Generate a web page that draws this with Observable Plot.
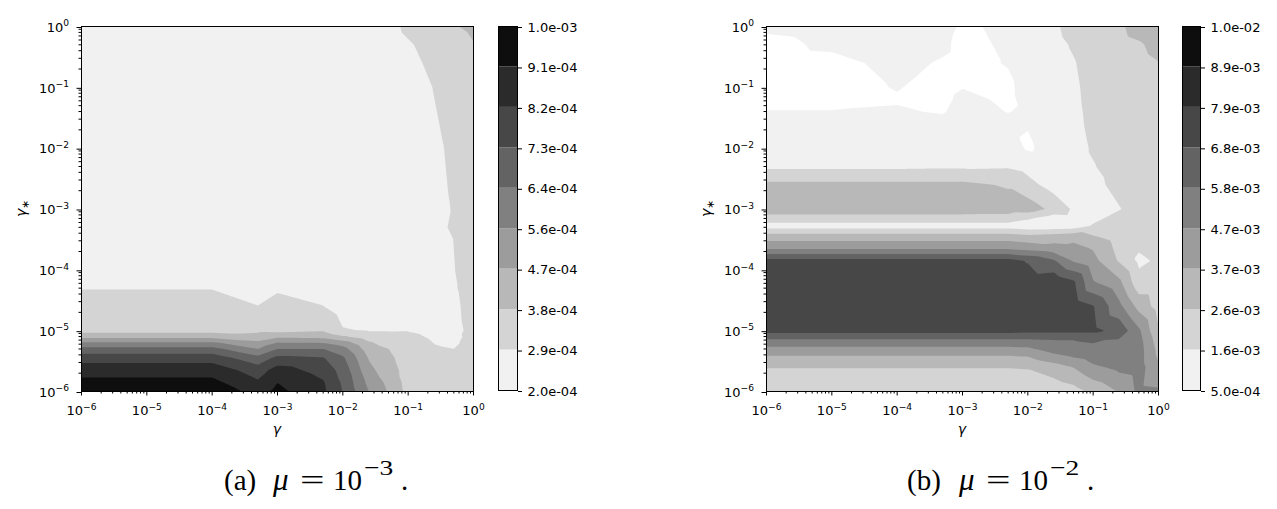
<!DOCTYPE html>
<html>
<head>
<meta charset="utf-8">
<script src="https://cdn.jsdelivr.net/npm/d3@7"></script>
<script src="https://cdn.jsdelivr.net/npm/@observablehq/plot@0.6"></script>
<style>
  html, body { margin: 0; padding: 0; background: #fff; }
  #root { position: relative; width: 1277px; height: 509px; overflow: hidden; background: #fff; }
  #root > svg { position: absolute; top: 0; }
</style>
</head>
<body>
<div id="root"></div>
<script>
// ---------------- data ----------------
// grid nodes (log10 of the parameter values)
const log10Gamma = [-6, -5, -4, -3.3, -3, -2.3, -2, -1.6, -1.3, -1, -0.6, -0.3, 0];
const log10GammaStarA = [0, -0.3, -1, -2, -3, -3.3, -3.5, -4, -4.3, -4.6, -5, -5.1, -5.2, -5.3, -5.45, -5.65, -5.85, -6];
const log10GammaStarB = [0, -0.3, -0.6, -1, -1.2, -1.4, -1.6, -2, -2.3, -2.6, -3, -3.15, -3.28, -3.45, -3.65, -3.85, -4.2, -4.6, -5, -5.15, -5.35, -5.6, -6];

// panel (a), mu = 1e-3 : one list per gamma node, values in units of 1e-4
const valuesA = [
  [2.4, 2.4, 2.4, 2.4, 2.4, 2.4, 2.45, 2.6, 2.87, 3.1, 3.45, 4.4, 5.7, 6.75, 7.85, 8.75, 9.35, 9.7],
  [2.4, 2.4, 2.4, 2.4, 2.4, 2.4, 2.45, 2.6, 2.87, 3.1, 3.45, 4.4, 5.7, 6.75, 7.85, 8.75, 9.35, 9.7],
  [2.4, 2.4, 2.4, 2.4, 2.4, 2.4, 2.45, 2.6, 2.87, 3.1, 3.45, 4.4, 5.7, 6.75, 7.85, 8.75, 9.35, 9.7],
  [2.3, 2.3, 2.3, 2.3, 2.3, 2.3, 2.3, 2.45, 2.65, 2.9, 3.6, 4.1, 4.9, 5.55, 6.75, 7.8, 8.35, 8.8],
  [2.3, 2.3, 2.3, 2.3, 2.3, 2.3, 2.35, 2.6, 2.83, 3.05, 3.5, 4.5, 5.6, 6.45, 7.6, 8.6, 9.1, 9.35],
  [2.3, 2.3, 2.3, 2.3, 2.3, 2.3, 2.3, 2.45, 2.65, 2.9, 3.7, 4.4, 5.55, 6.45, 7.4, 7.9, 8.3, 8.4],
  [2.3, 2.3, 2.3, 2.3, 2.3, 2.3, 2.3, 2.35, 2.4, 2.5, 2.95, 3.9, 5.1, 5.9, 6.6, 7.0, 7.2, 7.3],
  [2.35, 2.35, 2.35, 2.35, 2.35, 2.35, 2.35, 2.35, 2.4, 2.5, 2.85, 3.3, 3.9, 4.2, 4.6, 4.9, 5.3, 5.55],
  [2.6, 2.5, 2.4, 2.4, 2.4, 2.4, 2.4, 2.35, 2.4, 2.5, 2.85, 3.1, 3.4, 3.78, 4.0, 4.2, 4.45, 4.6],
  [3.08, 2.8, 2.5, 2.45, 2.45, 2.45, 2.45, 2.4, 2.45, 2.55, 2.87, 3.0, 3.1, 3.2, 3.3, 3.4, 3.45, 3.5],
  [3.3, 3.2, 2.92, 2.75, 2.6, 2.6, 2.55, 2.55, 2.6, 2.65, 2.75, 2.82, 2.88, 2.92, 2.93, 2.94, 2.95, 2.95],
  [3.72, 3.4, 3.2, 3.03, 2.95, 3.03, 2.9, 2.87, 2.82, 2.78, 2.75, 2.8, 2.84, 2.89, 2.9, 2.9, 2.9, 2.9],
  [3.95, 3.74, 3.5, 3.3, 3.2, 3.2, 3.2, 3.2, 3.2, 3.1, 3.03, 3.0, 3.0, 2.95, 2.95, 2.92, 2.9, 2.9]
];
const unitA = 1e-4;

// panel (b), mu = 1e-2 : one list per gamma node, values in units of 1e-3
const valuesB = [
  [0.6, 0.35, 0.3, 0.3, 0.35, 0.52, 0.8, 1.1, 1.35, 2.85, 3.2, 2.2, 1.1, 3.1, 4.6, 7.2, 7.5, 7.6, 7.2, 5.7, 4.0, 2.65, 1.7],
  [0.7, 0.6, 0.35, 0.3, 0.35, 0.52, 0.8, 1.1, 1.35, 2.85, 3.2, 2.2, 1.1, 3.1, 4.6, 7.2, 7.5, 7.6, 7.2, 5.7, 4.0, 2.65, 1.7],
  [0.8, 0.75, 0.65, 0.53, 0.45, 0.56, 0.8, 1.1, 1.35, 2.85, 3.2, 2.2, 1.1, 3.1, 4.6, 7.2, 7.5, 7.6, 7.2, 5.7, 4.0, 2.65, 1.7],
  [0.75, 0.6, 0.45, 0.3, 0.35, 0.45, 0.7, 1.1, 1.4, 2.85, 3.2, 2.2, 1.1, 3.1, 4.6, 7.2, 7.5, 7.6, 7.2, 5.7, 4.0, 2.65, 1.7],
  [0.4, 0.35, 0.35, 0.48, 0.65, 0.75, 0.85, 1.15, 1.4, 2.85, 3.2, 2.2, 1.1, 3.1, 4.6, 7.2, 7.5, 7.6, 7.2, 5.7, 4.0, 2.65, 1.7],
  [0.63, 0.58, 0.53, 0.4, 0.4, 0.48, 0.65, 0.98, 1.45, 2.5, 3.1, 2.2, 1.1, 3.1, 4.6, 7.2, 7.5, 7.6, 7.2, 5.7, 4.0, 2.65, 1.7],
  [0.9, 0.85, 0.75, 0.7, 0.65, 0.6, 0.55, 0.38, 1.2, 1.9, 3.2, 1.72, 0.9, 2.9, 4.4, 6.75, 7.4, 7.5, 7.1, 5.7, 4.1, 2.7, 1.7],
  [1.4, 1.3, 1.2, 1.1, 1.05, 1.0, 0.95, 0.86, 1.0, 1.1, 2.3, 1.04, 0.9, 3.1, 4.1, 5.9, 7.6, 7.5, 7.1, 5.8, 4.9, 3.2, 1.9],
  [1.9, 1.65, 1.5, 1.42, 1.4, 1.36, 1.33, 1.2, 1.2, 1.1, 1.4, 1.2, 1.0, 3.3, 4.0, 4.6, 7.0, 7.45, 7.1, 5.8, 5.3, 3.7, 2.2],
  [2.1, 2.0, 1.9, 1.82, 1.8, 1.78, 1.76, 1.66, 1.5, 1.25, 1.2, 1.3, 1.67, 2.7, 3.6, 4.0, 4.8, 6.9, 7.1, 5.85, 5.6, 4.5, 2.9],
  [2.45, 2.3, 2.2, 2.15, 2.1, 2.1, 2.1, 2.05, 2.0, 1.9, 1.5, 1.9, 2.0, 2.1, 2.3, 2.5, 3.9, 5.0, 6.5, 5.7, 5.4, 5.0, 3.75],
  [3.0, 2.5, 2.35, 2.25, 2.2, 2.15, 2.1, 2.1, 2.1, 2.05, 2.0, 2.05, 2.0, 1.8, 1.65, 1.35, 1.9, 3.3, 4.9, 5.1, 5.2, 5.2, 5.0],
  [3.3, 2.9, 2.58, 2.3, 2.2, 2.1, 2.1, 2.1, 2.1, 2.1, 2.1, 2.1, 2.1, 2.0, 1.9, 1.7, 1.9, 2.2, 2.7, 3.1, 3.4, 3.8, 4.9]
];
const unitB = 1e-3;

// contour levels and their colour-bar labels
const levelsA = [2.0e-4, 2.889e-4, 3.778e-4, 4.667e-4, 5.556e-4, 6.444e-4, 7.333e-4, 8.222e-4, 9.111e-4, 1.0e-3];
const levelLabelsA = ["2.0e-04", "2.9e-04", "3.8e-04", "4.7e-04", "5.6e-04", "6.4e-04", "7.3e-04", "8.2e-04", "9.1e-04", "1.0e-03"];
const levelsB = [5.0e-4, 1.556e-3, 2.611e-3, 3.667e-3, 4.722e-3, 5.778e-3, 6.833e-3, 7.889e-3, 8.944e-3, 1.0e-2];
const levelLabelsB = ["5.0e-04", "1.6e-03", "2.6e-03", "3.7e-03", "4.7e-03", "5.8e-03", "6.8e-03", "7.9e-03", "8.9e-03", "1.0e-02"];
const grays = ["#f1f1f1", "#d4d4d4", "#b8b8b8", "#9c9c9c", "#808080", "#636363", "#474747", "#2b2b2b", "#0e0e0e"];

const decadeTicks = [1e-6, 1e-5, 1e-4, 1e-3, 1e-2, 1e-1, 1];
const decadeLabels = ["10^\u22126", "10^\u22125", "10^\u22124", "10^\u22123", "10^\u22122", "10^\u22121", "10^0"];
const captionA = ["(a)", "\u03bc", "=", "10", "\u22123", "."];
const captionB = ["(b)", "\u03bc", "=", "10", "\u22122", "."];

// ---------------- helpers ----------------
const minorTicks = decadeTicks.slice(0, -1).flatMap(d => [2, 3, 4, 5, 6, 7, 8, 9].map(k => k * d));
const toGrid = (ys, cols, unit) =>
  cols.flatMap((col, i) => col.map((v, j) => ({gamma: 10 ** log10Gamma[i], gammaStar: 10 ** ys[j], value: v * unit})));
const fmtDecade = d => decadeLabels[Math.round(Math.log10(d)) + 6];
const baseStyle = {fontFamily: "DejaVu Sans, sans-serif", fontSize: "13px", color: "#000", background: "transparent", overflow: "visible"};
const SVGNS = "http://www.w3.org/2000/svg";

function superscriptify(svg) {
  svg.querySelectorAll("text").forEach(t => {
    const m = /^10\^(.+)$/.exec(t.textContent);
    if (!m) return;
    t.textContent = "10";
    const s = document.createElementNS(SVGNS, "tspan");
    s.setAttribute("dy", "-0.6em");
    s.setAttribute("font-size", "70%");
    s.textContent = m[1];
    t.appendChild(s);
  });
}

function panel(data, levels) {
  const svg = Plot.plot({
    width: 480, height: 440,
    marginLeft: 81, marginRight: 7, marginTop: 26, marginBottom: 49,
    style: baseStyle,
    x: {type: "log", domain: [1e-6, 1], label: null, axis: null},
    y: {type: "log", domain: [1e-6, 1], label: null, axis: null},
    color: {type: "threshold", domain: levels.slice(1, -1), range: grays},
    marks: [
      Plot.contour(data, {
        x: "gamma", y: "gammaStar", fill: "value",
        thresholds: levels.slice(0, -1), interpolate: "barycentric",
        stroke: "none", pixelSize: 1
      }),
      Plot.axisX({ticks: minorTicks, tickSize: 2.5, tickFormat: () => "", label: null}),
      Plot.axisX({ticks: decadeTicks, tickSize: 4.5, tickPadding: 10, tickFormat: fmtDecade, label: null}),
      Plot.axisY({ticks: minorTicks, tickSize: 2.5, tickFormat: () => "", label: null}),
      Plot.axisY({ticks: decadeTicks, tickSize: 4.5, tickPadding: 8, dy: 1, tickFormat: fmtDecade, label: null}),
      Plot.frame({stroke: "#000"})
    ]
  });
  superscriptify(svg);
  const sel = d3.select(svg);
  sel.append("text")
    .attr("x", 277).attr("y", 434)
    .attr("text-anchor", "middle").attr("font-style", "italic").attr("font-size", 14)
    .text("\u03b3");
  const yl = sel.append("text")
    .attr("transform", "translate(26,208.5) rotate(-90)")
    .attr("text-anchor", "middle").attr("font-size", 14);
  yl.append("tspan").attr("font-style", "italic").text("\u03b3");
  yl.append("tspan").attr("dy", 3).attr("font-size", "75%").text("\u2217");
  return svg;
}

function colorbar(levels, labels, barWidth, marginRight) {
  const bins = levels.slice(0, -1).map((lo, i) => ({lo, hi: levels[i + 1]}));
  return Plot.plot({
    width: barWidth + marginRight, height: 440,
    marginLeft: 0, marginRight, marginTop: 26, marginBottom: 50,
    style: baseStyle,
    x: {axis: null},
    y: {domain: [levels[0], levels[levels.length - 1]], label: null, axis: null},
    color: {type: "threshold", domain: levels.slice(1, -1), range: grays},
    marks: [
      Plot.rect(bins, {y1: "lo", y2: "hi", fill: "lo"}),
      Plot.axisY({anchor: "right", ticks: levels, tickSize: 4, tickPadding: 6, dy: 1,
        tickFormat: d => labels[levels.indexOf(d)], label: null}),
      Plot.frame({stroke: "#000"})
    ]
  });
}

function caption(parts, xLabel, shift) {
  // parts: label, mu, "=", "10", exponent, "."
  const g = document.createElementNS(SVGNS, "g");
  const s = d3.select(g).attr("font-family", "Liberation Serif, serif").attr("font-size", 29).attr("fill", "#000");
  s.append("text").attr("x", xLabel).attr("y", 490).text(parts[0]);
  s.append("text").attr("x", 273 + shift).attr("y", 490).attr("font-style", "italic").attr("font-size", 31).text(parts[1]);
  s.append("text").attr("transform", `translate(${300 + shift},490) scale(1.5,1)`).text(parts[2]);
  s.append("text").attr("x", 333 + shift).attr("y", 490).text(parts[3]);
  s.append("text").attr("transform", `translate(${364 + shift},475) scale(1.25,1)`).attr("font-size", 22).text(parts[4]);
  s.append("text").attr("x", 401 + shift).attr("y", 490).text(parts[5]);
  return g;
}

// ---------------- build ----------------
const root = document.getElementById("root");
const dataA = toGrid(log10GammaStarA, valuesA, unitA);
const dataB = toGrid(log10GammaStarB, valuesB, unitB);

const pA = panel(dataA, levelsA); pA.style.left = "0px";
const cA = colorbar(levelsA, levelLabelsA, 19, 81); cA.style.left = "498px";
const pB = panel(dataB, levelsB); pB.style.left = "685px";
const cB = colorbar(levelsB, levelLabelsB, 18, 77); cB.style.left = "1182px";
[pA, cA, pB, cB].forEach(s => root.appendChild(s));

const cap = document.createElementNS(SVGNS, "svg");
cap.setAttribute("width", 1277); cap.setAttribute("height", 509);
cap.style.left = "0px";
cap.appendChild(caption(captionA, 224, 0));
cap.appendChild(caption(captionB, 907, 686));
root.appendChild(cap);
</script>
</body>
</html>
